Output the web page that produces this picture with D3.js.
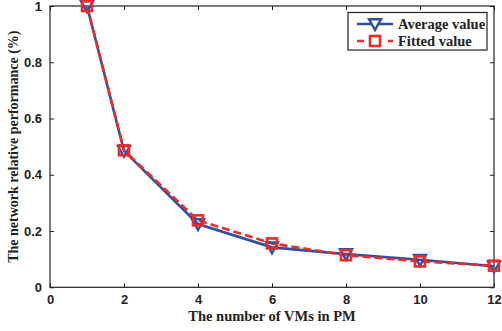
<!DOCTYPE html>
<html><head><meta charset="utf-8">
<script src="https://cdn.jsdelivr.net/npm/d3@7"></script>
<style>body{margin:0;background:#fff}svg{display:block}</style>
</head><body>
<script>
const vmCounts = [1, 2, 4, 6, 8, 10, 12];
const averageValues = [1.0, 0.485, 0.225, 0.142, 0.118, 0.098, 0.075];
const fittedValues = [1.0, 0.487, 0.238, 0.156, 0.114, 0.092, 0.077];
const xTicks = [0, 2, 4, 6, 8, 10, 12];
const yTicks = [0, 0.2, 0.4, 0.6, 0.8, 1];
const seriesNames = ["Average value", "Fitted value"];

const W = 502, H = 331;
const m = {l: 50, r: 8, t: 6, b: 44};
const svg = d3.select("body").append("svg").attr("width", W).attr("height", H);
const x = d3.scaleLinear().domain([0, 12]).range([m.l, 494]);
const y = d3.scaleLinear().domain([0, 1]).range([287.3, 6]);
const blue = "#2f4f9f", red = "#ee2a2a";

const g = svg.append("g");
g.append("rect").attr("x", x(0)).attr("y", y(1)).attr("width", x(12) - x(0)).attr("height", y(0) - y(1))
  .attr("fill", "none").attr("stroke", "#222").attr("stroke-width", 1.2);

const tickFont = "bold 13px 'Liberation Sans', Arial, sans-serif";
const xb = g.append("g").attr("transform", `translate(0,${y(0)})`)
  .call(d3.axisBottom(x).tickValues(xTicks).tickSize(-4).tickPadding(7).tickFormat(d3.format("d")));
const yl = g.append("g").attr("transform", `translate(${x(0)},0)`)
  .call(d3.axisLeft(y).tickValues(yTicks).tickSize(-4).tickPadding(8).tickFormat(d => d === 0 || d === 1 ? d3.format("d")(d) : d3.format(".1f")(d)));
const xt = g.append("g").attr("transform", `translate(0,${y(1)})`)
  .call(d3.axisTop(x).tickValues(xTicks).tickSize(-4).tickFormat(""));
const yr = g.append("g").attr("transform", `translate(${x(12)},0)`)
  .call(d3.axisRight(y).tickValues(yTicks).tickSize(-4).tickFormat(""));
[xb, yl, xt, yr].forEach(a => {
  a.select(".domain").remove();
  a.selectAll("line").attr("stroke", "#222").attr("stroke-width", 1);
  a.selectAll("text").style("font", tickFont).attr("fill", "#222");
});

const line = d3.line().x((d, i) => x(vmCounts[i])).y(d => y(d));
g.append("path").datum(averageValues).attr("d", line).attr("fill", "none")
  .attr("stroke", blue).attr("stroke-width", 2.6);
g.append("path").datum(fittedValues).attr("d", line).attr("fill", "none")
  .attr("stroke", red).attr("stroke-width", 2.6).attr("stroke-dasharray", "8,4");

const tri = (cx, cy, s) => `M${cx - s},${cy - s * 0.8}L${cx + s},${cy - s * 0.8}L${cx},${cy + s * 1.0}Z`;
g.selectAll(".tri").data(averageValues).enter().append("path")
  .attr("d", (d, i) => tri(x(vmCounts[i]), y(d), 6))
  .attr("fill", "none").attr("stroke", blue).attr("stroke-width", 2.4);
g.selectAll(".sq").data(fittedValues).enter().append("rect")
  .attr("x", (d, i) => x(vmCounts[i]) - 5).attr("y", d => y(d) - 5)
  .attr("width", 10).attr("height", 10)
  .attr("fill", "none").attr("stroke", red).attr("stroke-width", 2.6);

const titleFont = "bold 14.5px 'Liberation Serif', 'Times New Roman', serif";
svg.append("text").attr("x", 272).attr("y", 321).attr("text-anchor", "middle")
  .style("font", titleFont).attr("fill", "#222").text("The number of VMs in PM");
svg.append("text").attr("transform", `translate(18,${(y(0) + y(1)) / 2}) rotate(-90)`)
  .attr("text-anchor", "middle").style("font", "bold 14px 'Liberation Serif', 'Times New Roman', serif").attr("fill", "#222")
  .text("The network relative performance (%)");

const lg = svg.append("g");
lg.append("rect").attr("x", 348).attr("y", 12.5).attr("width", 139).attr("height", 37.5)
  .attr("fill", "#fff").attr("stroke", "#222").attr("stroke-width", 1.2);
const rows = [24, 41];
lg.append("line").attr("x1", 357).attr("x2", 393).attr("y1", rows[0]).attr("y2", rows[0])
  .attr("stroke", blue).attr("stroke-width", 2.6);
lg.append("path").attr("d", tri(375, rows[0], 6)).attr("fill", "#fff").attr("stroke", blue).attr("stroke-width", 2.4);
lg.append("line").attr("x1", 357).attr("x2", 393).attr("y1", rows[1]).attr("y2", rows[1])
  .attr("stroke", red).attr("stroke-width", 2.6).attr("stroke-dasharray", "7,8.5");
lg.append("rect").attr("x", 370).attr("y", rows[1] - 5).attr("width", 10).attr("height", 10)
  .attr("fill", "#fff").attr("stroke", red).attr("stroke-width", 2.6);
seriesNames.forEach((n, i) => {
  lg.append("text").attr("x", 398).attr("y", rows[i] + 5).style("font", "bold 14.5px 'Liberation Serif', 'Times New Roman', serif")
    .attr("fill", "#222").text(n);
});
</script>
</body></html>
